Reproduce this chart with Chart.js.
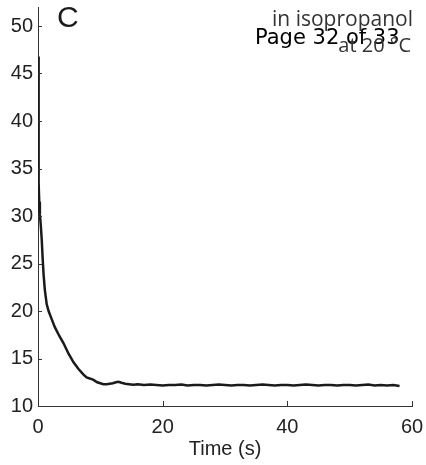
<!DOCTYPE html>
<html>
<head>
<meta charset="utf-8">
<script src="https://cdn.jsdelivr.net/npm/chart.js@4"></script>
<style>
  html, body { margin: 0; padding: 0; background: #fff; }
  #wrap { width: 426px; height: 465px; }
</style>
</head>
<body>
<div id="wrap"><canvas id="chart" width="426" height="465"></canvas></div>
<script>
// values
const times = [0.02, 0.05, 0.1, 0.15, 0.2, 0.3, 0.45, 0.6, 0.75, 0.9, 1.1, 1.4, 1.7, 2.1, 2.7, 3.4, 4.1, 4.9, 5.7, 6.5, 7.3, 7.8, 8.3, 8.9, 9.5, 10.0, 10.5, 11.0, 11.5, 12.0, 12.5, 12.9, 13.4, 14.0, 14.6, 15.3,
  16, 17, 18, 19, 20, 21, 22, 23, 24, 25, 26, 27, 28, 29, 30, 31, 32, 33, 34, 35, 36, 37, 38, 39, 40,
  41, 42, 43, 44, 45, 46, 47, 48, 49, 50, 51, 52, 53, 54, 55, 56, 57, 58];
const signal = [46.8, 42, 37, 33.5, 31.5, 30.2, 29, 27.5, 25.5, 23.8, 22.2, 20.7, 20.0, 19.3, 18.3, 17.4, 16.6, 15.5, 14.6, 13.9, 13.3, 13.0, 12.9, 12.75, 12.5, 12.4, 12.3, 12.3, 12.35, 12.4, 12.5, 12.55, 12.45, 12.35, 12.3, 12.25,
  12.3, 12.2, 12.25, 12.2, 12.15, 12.2, 12.2, 12.25, 12.15, 12.2, 12.2, 12.15, 12.2, 12.25, 12.2, 12.15, 12.2, 12.2, 12.15, 12.2, 12.25, 12.2, 12.15, 12.2, 12.2,
  12.15, 12.2, 12.25, 12.2, 12.15, 12.2, 12.2, 12.15, 12.2, 12.2, 12.15, 12.2, 12.25, 12.15, 12.2, 12.15, 12.2, 12.1];
const xTicks = [0, 20, 40, 60];
const yTicks = [10, 15, 20, 25, 30, 35, 40, 45, 50];

const points = times.map((t, i) => ({ x: t, y: signal[i] }));

// inward tick marks and the panel texts
const decorPlugin = {
    id: 'decor',
    afterDraw(chart) {
        const ctx = chart.ctx;
        const xs = chart.scales.x;
        const ys = chart.scales.y;
        const area = chart.chartArea;
        ctx.save();
        ctx.strokeStyle = '#333';
        ctx.lineWidth = 1;
        ctx.beginPath();
        xTicks.forEach(v => {
            const px = Math.round(xs.getPixelForValue(v)) + 0.5;
            ctx.moveTo(px, area.bottom);
            ctx.lineTo(px, area.bottom - 5);
        });
        yTicks.forEach(v => {
            const py = Math.round(ys.getPixelForValue(v)) + 0.5;
            ctx.moveTo(area.left, py);
            ctx.lineTo(area.left + 4, py);
        });
        ctx.stroke();

        ctx.textBaseline = 'alphabetic';
        ctx.fillStyle = '#1a1a1a';
        ctx.font = '30px "Liberation Sans", Arial, sans-serif';
        ctx.textAlign = 'left';
        ctx.fillText('C', 57, 27);

        ctx.textAlign = 'right';
        ctx.fillStyle = '#333';
        ctx.font = '21px "Open Sans", "Noto Sans", sans-serif';
        ctx.fillText('in isopropanol', 413, 26);

        ctx.fillStyle = '#000';
        ctx.font = '21px "DejaVu Sans", sans-serif';
        ctx.textAlign = 'left';
        ctx.fillText('Page 32 of 33', 255, 44);

        ctx.fillStyle = '#333';
        ctx.font = '20px "Open Sans", "Noto Sans", sans-serif';
        ctx.textAlign = 'right';
        ctx.fillText('at 20 °C', 411, 52);
        ctx.restore();
    }
};

new Chart(document.getElementById('chart'), {
    type: 'scatter',
    data: {
        datasets: [{
            data: points,
            showLine: true,
            borderColor: '#1a1a1a',
            borderWidth: 2.5,
            pointRadius: 0,
            tension: 0
        }]
    },
    options: {
        responsive: false,
        animation: false,
        layout: { padding: { top: 7, right: 14, left: 0, bottom: 0 } },
        plugins: {
            legend: { display: false },
            tooltip: { enabled: false }
        },
        scales: {
            x: {
                type: 'linear',
                min: 0,
                max: 60,
                afterBuildTicks: s => { s.ticks = xTicks.map(v => ({ value: v })); },
                afterFit: s => { s.height = 59; s.paddingLeft = 0; s.paddingRight = 0; },
                grid: { display: false, drawTicks: false },
                border: { display: true, color: '#333', width: 1 },
                ticks: {
                    padding: 9,
                    color: '#222',
                    font: { family: '"Liberation Sans", Arial, sans-serif', size: 20 }
                },
                title: {
                    display: true,
                    text: 'Time (s)',
                    color: '#222',
                    padding: { top: 2, bottom: 4 },
                    font: { family: '"Liberation Sans", Arial, sans-serif', size: 20 }
                }
            },
            y: {
                type: 'linear',
                min: 10,
                max: 52,
                afterBuildTicks: s => { s.ticks = yTicks.map(v => ({ value: v })); },
                afterFit: s => { s.width = 38; s.paddingTop = 0; s.paddingBottom = 0; },
                grid: { display: false, drawTicks: false },
                border: { display: true, color: '#333', width: 1 },
                ticks: {
                    padding: 5,
                    color: '#222',
                    font: { family: '"Liberation Sans", Arial, sans-serif', size: 20 }
                }
            }
        }
    },
    plugins: [decorPlugin]
});
</script>
</body>
</html>
